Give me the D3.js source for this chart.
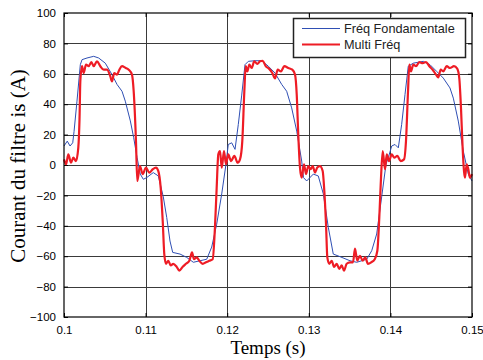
<!DOCTYPE html>
<html><head><meta charset="utf-8">
<script src="https://cdn.jsdelivr.net/npm/d3@7"></script>
<style>html,body{margin:0;padding:0;background:#fff;}svg{display:block;}</style>
</head><body><svg id="c" width="483" height="360"></svg>
<script>
const xTicks = [0.1, 0.11, 0.12, 0.13, 0.14, 0.15];
const xTickLabels = ["0.1", "0.11", "0.12", "0.13", "0.14", "0.15"];
const yTicks = [-100, -80, -60, -40, -20, 0, 20, 40, 60, 80, 100];
const seriesNames = ["Fréq Fondamentale", "Multi Fréq"];

const blueT = [0.1000,0.10040,0.10074,0.10107,0.10123,0.10159,0.10200,0.10221,0.10282,0.10364,0.10425,0.10506,0.10588,0.10650,0.10711,0.10751,0.10813,0.10854,0.10895,0.10935,0.10972,0.11013,0.11094,0.11156,0.11217,0.11259,0.11299,0.11332,0.11422,0.11504,0.11585,0.11667,0.11749,0.11810,0.11871,0.11933,0.11985,0.12013,0.12055,0.12096,0.12136,0.12178,0.12218,0.12259,0.12341,0.12423,0.12504,0.12586,0.12668,0.12729,0.12790,0.12852,0.12913,0.12935,0.12974,0.13055,0.13116,0.13178,0.13239,0.13300,0.13382,0.13505,0.13587,0.13710,0.13771,0.13832,0.13893,0.13946,0.13974,0.14016,0.14056,0.14097,0.14138,0.14179,0.14219,0.14281,0.14403,0.14485,0.14567,0.14648,0.14730,0.14771,0.14832,0.14893,0.14955,0.15000];
const blueI = [12.5,15.7,12.5,14.6,22,42,66,69.3,70.4,71.5,70.4,67,59.5,53,48.5,42,29,18,5,-6,-9.4,-8.3,-5,-7.2,-21,-34.5,-50,-57.5,-58.6,-60.8,-64,-63,-62,-54,-39,-19,0.5,13.5,14.6,10.3,26.7,46,66,68.2,68.6,68.6,65,60.5,53,48.5,37.6,22.3,2.6,-8.3,-10.5,-6,-7.2,-19,-41,-58.6,-60.3,-63,-64,-62,-56.4,-45.4,-21,0.5,4.8,12.5,13.5,11.3,26.7,46.4,65,67,68.2,66,61.6,57.2,50.7,44,28.9,9.2,-6,-10.5];

const redT = [0.10000,0.10025,0.10053,0.10086,0.10114,0.10147,0.10175,0.10190,0.10200,0.10221,0.10241,0.10270,0.10303,0.10335,0.10364,0.10404,0.10445,0.10487,0.10527,0.10567,0.10588,0.10616,0.10650,0.10678,0.10711,0.10751,0.10793,0.10833,0.10854,0.10882,0.10898,0.10931,0.10964,0.11005,0.11045,0.11087,0.11127,0.11156,0.11185,0.11210,0.11229,0.11250,0.11278,0.11308,0.11339,0.11381,0.11413,0.11455,0.11495,0.11536,0.11569,0.11593,0.11626,0.11658,0.11700,0.11740,0.11781,0.11822,0.11850,0.11871,0.11891,0.11912,0.11933,0.11961,0.11985,0.12013,0.12047,0.12087,0.12129,0.12157,0.12185,0.12210,0.12227,0.12247,0.12271,0.12300,0.12332,0.12369,0.12402,0.12435,0.12472,0.12512,0.12553,0.12586,0.12619,0.12659,0.12700,0.12749,0.12798,0.12831,0.12852,0.12871,0.12892,0.12913,0.12941,0.12966,0.12994,0.13023,0.13048,0.13076,0.13104,0.13137,0.13170,0.13190,0.13211,0.13227,0.13251,0.13281,0.13309,0.13342,0.13374,0.13403,0.13431,0.13464,0.13505,0.13542,0.13566,0.13594,0.13627,0.13660,0.13692,0.13725,0.13766,0.13808,0.13840,0.13864,0.13885,0.13906,0.13934,0.13955,0.13983,0.14016,0.14048,0.14085,0.14126,0.14167,0.14191,0.14216,0.14232,0.14252,0.14281,0.14314,0.14354,0.14396,0.14436,0.14477,0.14518,0.14559,0.14587,0.14616,0.14648,0.14690,0.14730,0.14779,0.14819,0.14844,0.14865,0.14885,0.14902,0.14914,0.14935,0.14955,0.14975,0.15000];
const redI = [3.7,0.5,7,1.5,4.8,2.6,11.3,30,55,65,60.5,66,65,67.7,65,68.2,65,62.7,62.7,58.4,55,60.5,59.5,62.7,65,64,62.7,59.5,48.5,15.7,-10.5,-0.7,-6,-1.7,-5,-2.8,-1.7,-4,-15,-37,-58.6,-65,-63,-66,-65,-67,-69.5,-67,-65,-63,-57.5,-62,-60.8,-63,-65,-64,-63,-62,-41,-15,7,9.2,-1.7,9.2,0.5,7,2.6,6,1.5,3.7,15.7,48.5,65,61.6,66,63.8,68.2,66.5,68.2,68.6,65,63.4,60.5,56.9,62.7,61.6,65,63.8,62.7,59.5,46.4,20,-1.7,-8.3,0.5,-6,-0.7,-2.8,-0.7,-5,-1.7,-0.7,-4,-17,-39,-60.8,-65,-63,-67,-65,-68.4,-66,-69.5,-65,-64,-64,-55,-63,-59.7,-63,-60.8,-65,-64,-62,-56.4,-34.5,-8.3,9.2,-2.8,7,2.6,7,4.8,6,2.6,3.7,15.7,48.5,66,61.6,66,65,67.7,67,67.7,65,62.7,59.5,57.7,62.7,61.6,65,63.8,65,63.4,57.2,37.6,11.3,-4,-8.3,0.5,-2.8,-8.3,-6];

const svg = d3.select("#c");
const L = 64, R = 472, T = 13, B = 317;
const x = d3.scaleLinear().domain([0.1, 0.15]).range([L, R]);
const y = d3.scaleLinear().domain([-100, 100]).range([B, T]);

// grid
const g = svg.append("g");
g.selectAll(".gx").data(xTicks.slice(1, -1)).enter().append("line")
  .attr("x1", d => Math.round(x(d)) + 0.5).attr("x2", d => Math.round(x(d)) + 0.5)
  .attr("y1", T).attr("y2", B).attr("stroke", "#3a3a3a").attr("stroke-width", 1);
g.selectAll(".gy").data(yTicks.slice(1, -1)).enter().append("line")
  .attr("y1", d => Math.round(y(d)) + 0.5).attr("y2", d => Math.round(y(d)) + 0.5)
  .attr("x1", L).attr("x2", R).attr("stroke", "#3a3a3a").attr("stroke-width", 1);

// axes
const fontTick = "'Liberation Sans', Arial, sans-serif";
const ax = d3.axisBottom(x).tickValues(xTicks).tickFormat((d, i) => xTickLabels[i]).tickSizeInner(-4).tickSizeOuter(0).tickPadding(9);
const ay = d3.axisLeft(y).tickValues(yTicks).tickSizeInner(-4).tickSizeOuter(0).tickPadding(8);
const axT = d3.axisTop(x).tickValues(xTicks).tickFormat("").tickSizeInner(-4).tickSizeOuter(0);
const ayR = d3.axisRight(y).tickValues(yTicks).tickFormat("").tickSizeInner(-4).tickSizeOuter(0);

function styleAxis(sel) {
  sel.select(".domain").remove();
  sel.selectAll("line").attr("stroke", "#000");
  sel.selectAll("text").attr("font-family", fontTick).attr("font-size", "11.5px").attr("fill", "#000");
}
svg.append("g").attr("transform", `translate(0,${B})`).call(ax).call(styleAxis);
svg.append("g").attr("transform", `translate(${L},0)`).call(ay).call(styleAxis);
svg.append("g").attr("transform", `translate(0,${T})`).call(axT).call(styleAxis);
svg.append("g").attr("transform", `translate(${R},0)`).call(ayR).call(styleAxis);

// lines
const blueData = blueT.map((t, i) => [t, blueI[i]]);
const redData = redT.map((t, i) => [t, redI[i]]);
const lineB = d3.line().x(d => x(d[0])).y(d => y(d[1]));
const lineR = d3.line().x(d => x(d[0])).y(d => y(d[1])).curve(d3.curveMonotoneX);
svg.append("path").attr("d", lineB(blueData)).attr("fill", "none").attr("stroke", "#2f4fb4").attr("stroke-width", 1);
svg.append("path").attr("d", lineR(redData)).attr("fill", "none").attr("stroke", "#ee1c25").attr("stroke-width", 2.2).attr("stroke-linejoin", "round");

// box
svg.append("rect").attr("x", L).attr("y", T).attr("width", R - L).attr("height", B - T)
  .attr("fill", "none").attr("stroke", "#000").attr("stroke-width", 1.2);

// legend
const lg = svg.append("g");
lg.append("rect").attr("x", 293.5).attr("y", 18.5).attr("width", 172).attr("height", 39)
  .attr("fill", "#fff").attr("stroke", "#222").attr("stroke-width", 1.5);
const lgColors = ["#2f4fb4", "#ee1c25"], lgW = [1, 2.2];
seriesNames.forEach((n, i) => {
  const yy = 28.5 + i * 16;
  lg.append("line").attr("x1", 302).attr("x2", 340).attr("y1", yy).attr("y2", yy)
    .attr("stroke", lgColors[i]).attr("stroke-width", lgW[i]);
  lg.append("text").attr("x", 344).attr("y", yy + 4.5).text(n)
    .attr("font-family", fontTick).attr("font-size", "12.7px").attr("fill", "#222");
});

// labels
svg.append("text").attr("x", (L + R) / 2).attr("y", 354).attr("text-anchor", "middle")
  .attr("font-family", "'Liberation Serif', 'Times New Roman', serif").attr("font-size", "19px").text("Temps (s)");
svg.append("text").attr("transform", `translate(25,166) rotate(-90)`).attr("text-anchor", "middle")
  .attr("font-family", "'Liberation Serif', 'Times New Roman', serif").attr("font-size", "21px").text("Courant du filtre is (A)");
</script></body></html>
